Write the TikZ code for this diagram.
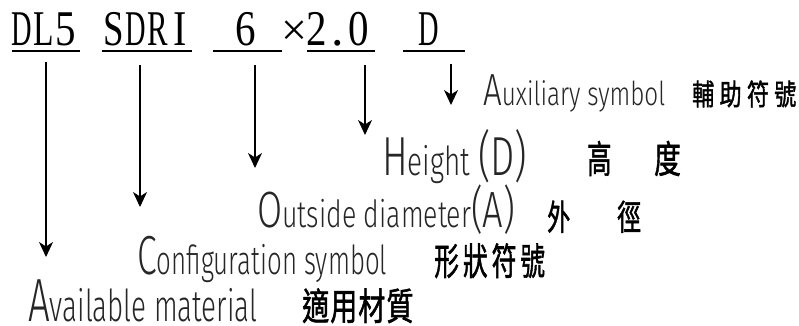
\documentclass[tikz,border=0pt]{standalone}
\usepackage{fontspec}
\usepackage{graphicx}
\usetikzlibrary{arrows.meta}
\setmainfont{Liberation Serif}
\IfFontExistsTF{Fira Sans Light}{\newfontfamily\hand{Fira Sans Light}}{\newfontfamily\hand{Fira Sans}}
\newfontfamily\cjk{Noto Sans CJK TC}[FakeBold=1.6]
\newcommand\mc[1]{\makebox[22pt]{\resizebox{20.5pt}{\height}{#1}}}
\newcommand\zhtxt[3]{\scalebox{#2}[1]{\cjk\fontsize{#1}{#1}\selectfont #3}}
\newcommand\nodepth[1]{\raisebox{0pt}[\height][0pt]{#1}}
\tikzset{
  code/.style={inner sep=0pt, anchor=base west, font=\fontsize{50}{50}\selectfont, text=black},
  lab/.style={inner sep=0pt, anchor=base west, text=black!85},
  zh/.style={inner sep=0pt, anchor=base west, text=black},
  uline/.style={line width=2pt, black},
  arr/.style={line width=1.2pt, black, -{Stealth[length=15pt,width=14pt,inset=4.5pt]}},
}
\begin{document}
\begin{tikzpicture}[x=1pt,y=-1pt]
\useasboundingbox (0,0) rectangle (799,326);
% code line
\node[code] (dl5) at (11,46) {\mc{D}\mc{L}\mc{5}};
\node[code] (sdri) at (103,46) {\mc{S}\mc{D}\mc{R}\makebox[22pt]{\scalebox{0.8}[1]{I}}};
\node[code] (six) at (235,46) {\mc{6}};
\node[code, anchor=base, font=\fontsize{46}{46}\selectfont] (times) at (294,46) {×};
\node[code] (num) at (306,46) {\mc{2}\makebox[20pt]{.}\mc{0}};
\node[code] (dee) at (418,46) {\mc{D}};
% underlines
\draw[uline] (12,51.5) -- (80,51.5);
\draw[uline] (102,51.5) -- (192,51.5);
\draw[uline] (213,51.5) -- (282,51.5);
\draw[uline] (307,51.5) -- (375,51.5);
\draw[uline] (403,51.5) -- (465,51.5);
% english labels
\node[lab] (aux) at (483,106) {\resizebox{182pt}{\height}{\hand\fontsize{45}{45}\selectfont A\fontsize{33}{33}\selectfont uxiliary symbol}};
\node[lab] (hgt) at (382,175) {\resizebox{145pt}{\height}{\hand\fontsize{55}{55}\selectfont H\fontsize{40}{40}\selectfont eight \fontsize{55}{55}\selectfont(D)}};
\node[lab] (out) at (257,227) {\resizebox{258pt}{\height}{\hand\fontsize{51}{51}\selectfont O\fontsize{37.5}{37.5}\selectfont utside diameter\fontsize{51}{51}\selectfont(A)}};
\node[lab] (cfg) at (137,274) {\resizebox{250pt}{\height}{\hand\fontsize{55}{55}\selectfont C\fontsize{40}{40}\selectfont onfiguration symbol}};
\node[lab] (avl) at (28,321) {\nodepth{\resizebox{229pt}{\height}{\hand\fontsize{61}{61}\selectfont A\fontsize{44}{44}\selectfont vailable material}}};
% chinese labels
\node[zh] (fz) at (692,105) {\zhtxt{29}{0.76}{輔\hspace{7pt}助\hspace{7pt}符\hspace{7pt}號}};
\node[zh] (gao) at (587,173) {\zhtxt{38}{0.64}{高}};
\node[zh] (du) at (654,173) {\zhtxt{38}{0.7}{度}};
\node[zh] (wai) at (547,230) {\zhtxt{35}{0.66}{外}};
\node[zh] (jing) at (617,230) {\zhtxt{35}{0.68}{徑}};
\node[zh] (xz) at (434,275) {\zhtxt{37.5}{0.66}{形\hspace{6pt}狀\hspace{6pt}符\hspace{6pt}號}};
\node[zh] (sy) at (302,320) {\nodepth{\zhtxt{37.5}{0.72}{適\hspace{1.5pt}用\hspace{1.5pt}材\hspace{1.5pt}質}}};
% arrows
\coordinate (a1s) at (46,62);  \coordinate (a1e) at (46,257);
\coordinate (a2s) at (140,65); \coordinate (a2e) at (140,207);
\coordinate (a3s) at (255,65); \coordinate (a3e) at (255,168);
\coordinate (a4s) at (365,65); \coordinate (a4e) at (365,135);
\coordinate (a5s) at (451,64); \coordinate (a5e) at (451,105);
\draw[arr] (a1s) -- (a1e);
\draw[arr] (a2s) -- (a2e);
\draw[arr] (a3s) -- (a3e);
\draw[arr] (a4s) -- (a4e);
\draw[arr] (a5s) -- (a5e);
\end{tikzpicture}
\end{document}
